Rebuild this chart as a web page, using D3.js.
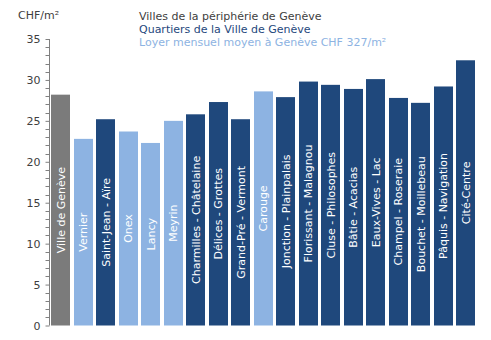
<!DOCTYPE html>
<html><head><meta charset="utf-8">
<script src="https://cdn.jsdelivr.net/npm/d3@7"></script>
<style>body{margin:0;background:#fff}svg{display:block}text{font-family:Tahoma,"DejaVu Sans",sans-serif}</style>
</head><body><svg id="c" width="491" height="340"></svg>
<script>
const categories = ["Ville de Genève","Vernier","Saint-Jean - Aïre","Onex","Lancy","Meyrin","Charmilles - Châtelaine","Délices - Grottes","Grand-Pré - Vermont","Carouge","Jonction - Plainpalais","Florissant - Malagnou","Cluse - Philosophes","Bâtie - Acacias","Eaux-Vives - Lac","Champel - Roseraie","Bouchet - Moillebeau","Pâquis - Navigation","Cité-Centre"];
const values = [28.2,22.8,25.2,23.7,22.3,25.0,25.8,27.3,25.2,28.6,27.9,29.8,29.4,28.9,30.1,27.8,27.2,29.2,32.4];
const groups = ["total","ville","quartier","ville","ville","ville","quartier","quartier","quartier","ville","quartier","quartier","quartier","quartier","quartier","quartier","quartier","quartier","quartier"];
const yTicks = [0,5,10,15,20,25,30,35];
const legendLabels = ["Villes de la périphérie de Genève","Quartiers de la Ville de Genève","Loyer mensuel moyen à Genève CHF 327/m²"];
const unitLabel = "CHF/m²";

const colors = {total:"#7b7b7b", ville:"#8db3e2", quartier:"#1f487c"};
const legendColors = ["#404040","#1f487c","#8db3e2"];

const svg = d3.select("#c");
const x = d3.scaleBand().domain(categories).range([49.5, 477]).paddingInner(0.155).paddingOuter(0.07);
const y = d3.scaleLinear().domain([0,35]).range([325.5, 39]);

// bars
const g = svg.append("g");
g.selectAll("rect").data(categories).join("rect")
  .attr("x", d => Math.round(x(d)))
  .attr("width", Math.round(x.bandwidth()))
  .attr("y", (d,i) => y(values[i]))
  .attr("height", (d,i) => y(0) - y(values[i]))
  .attr("fill", (d,i) => colors[groups[i]]);

g.selectAll("text.lab").data(categories).join("text")
  .attr("class","lab")
  .attr("transform", (d,i) => `translate(${x(d)+x.bandwidth()/2+4},${(y(values[i])+y(0))/2}) rotate(-90)`)
  .attr("text-anchor","middle")
  .attr("font-size", 11)
  .attr("fill","#fff")
  .text(d => d);

// y axis
const axis = d3.axisLeft(y).tickValues(yTicks).tickSize(4).tickPadding(5);
const ax = svg.append("g").attr("transform","translate(49.5,0)").call(axis);
ax.select(".domain").attr("stroke","#808080").attr("d", `M0,${y(35)}V${y(0)}`);
ax.selectAll(".tick line").attr("stroke","#808080");
ax.selectAll(".tick text").attr("fill","#404040").attr("font-size",11).attr("font-family","Tahoma, 'DejaVu Sans', sans-serif");
const minor = d3.range(0,36).filter(v => v % 5 !== 0);
ax.selectAll("line.minor").data(minor).join("line").attr("class","minor")
  .attr("x1",-4).attr("x2",0).attr("y1",d=>Math.round(y(d))+0.5).attr("y2",d=>Math.round(y(d))+0.5).attr("stroke","#808080");

svg.append("text").attr("x",18).attr("y",19).attr("font-size",11).attr("fill","#404040").text(unitLabel);

svg.selectAll("text.leg").data(legendLabels).join("text").attr("class","leg")
  .attr("x",139).attr("y",(d,i)=>20+i*13).attr("font-size",11)
  .attr("fill",(d,i)=>legendColors[i]).text(d=>d);
</script></body></html>
